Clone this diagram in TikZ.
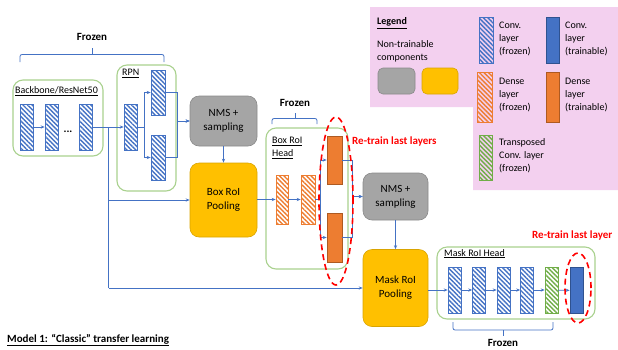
\documentclass[tikz,border=0pt]{standalone}
\usepackage{fontspec}
\setmainfont{Carlito}
\usetikzlibrary{arrows.meta,patterns.meta,shapes.geometric}

\definecolor{cblue}{HTML}{4472C4}
\definecolor{cbluedark}{HTML}{2F528F}
\definecolor{corange}{HTML}{ED7D31}
\definecolor{corangedark}{HTML}{AE5A21}
\definecolor{cgreen}{HTML}{70AD47}
\definecolor{boxgreen}{HTML}{A9D18E}
\definecolor{cgray}{HTML}{A5A5A5}
\definecolor{cgraydark}{HTML}{8A8A8A}
\definecolor{cyellow}{HTML}{FFC000}
\definecolor{cyellowdark}{HTML}{D9A400}
\definecolor{legendpink}{HTML}{F3D0EF}
\definecolor{cred}{HTML}{FF0000}

\tikzset{
  layer/.style={rectangle, inner sep=0pt, minimum width=13pt, minimum height=46pt, line width=0.6pt},
  stripes/.style={pattern={Lines[angle=-45,distance=3.2pt,line width=1.4pt]}, pattern color=#1},
  convfrozen/.style={layer, draw=cblue, stripes=cblue},
  densefrozen/.style={layer, draw=corange, stripes=corange},
  transfrozen/.style={layer, draw=cgreen, stripes=cgreen},
  convtrain/.style={layer, draw=cbluedark, fill=cblue},
  densetrain/.style={layer, draw=corangedark, fill=corange},
  group/.style={rectangle, rounded corners=10pt, draw=boxgreen, line width=1.1pt, inner sep=0pt},
  opbox/.style={rectangle, rounded corners=9pt, inner sep=0pt, line width=0.6pt, align=center,
    font=\fontsize{11}{14}\selectfont},
  graybox/.style={opbox, fill=cgray, draw=cgraydark},
  yellowbox/.style={opbox, fill=cyellow, draw=cyellowdark},
  flow/.style={draw=cblue, line width=0.8pt, -{Stealth[length=4pt,width=3.2pt]}},
  plain/.style={draw=cblue, line width=0.8pt},
  brace/.style={draw=cblue, line width=0.8pt, rounded corners=2pt},
  retrain/.style={draw=cred, line width=1.6pt, dash pattern=on 6pt off 4pt},
  boldlabel/.style={font=\fontsize{11}{13}\selectfont\bfseries, inner sep=0pt},
  redlabel/.style={boldlabel, text=cred, anchor=west},
  grouplabel/.style={font=\fontsize{10}{13}\selectfont, inner sep=0pt, anchor=north west, align=left},
  legendtext/.style={font=\fontsize{10}{13}\selectfont, inner sep=0pt, anchor=west, align=left},
}

\begin{document}
\begin{tikzpicture}[x=1pt, y=-1pt]
\useasboundingbox (0,0) rectangle (618,349);

% legend panel
\fill[legendpink] (370,7) -- (618,7) -- (618,190) -- (473,190) -- (473,107) -- (370,107) -- cycle;
\node[grouplabel, anchor=west, font=\fontsize{10}{13}\selectfont\bfseries] (legtitle) at (377,23) {\underline{Legend}};
\node[legendtext] (legnt) at (377,51) {Non-trainable\\components};
\node[graybox, rounded corners=5pt, minimum width=37pt, minimum height=26pt] (leggray) at (396.5,81) {};
\node[yellowbox, rounded corners=5pt, minimum width=36pt, minimum height=26pt] (legyellow) at (440,81) {};
\node[convfrozen, minimum width=14pt] (lcf) at (486,40) {};
\node[legendtext] (lcftext) at (499,39) {Conv.\\layer\\(frozen)};
\node[convtrain] (lct) at (552.5,40) {};
\node[legendtext] (lcttext) at (565,39) {Conv.\\layer\\(trainable)};
\node[densefrozen, minimum width=15pt, minimum height=50pt] (ldf) at (484.5,97) {};
\node[legendtext] (ldftext) at (499,95) {Dense\\layer\\(frozen)};
\node[densetrain, minimum height=50pt] (ldt) at (552.5,97) {};
\node[legendtext] (ldttext) at (565,95) {Dense\\layer\\(trainable)};
\node[transfrozen, minimum height=45pt] (ltf) at (485.5,157.5) {};
\node[legendtext] (ltftext) at (499,156) {Transposed\\Conv. layer\\(frozen)};

% backbone
\node[group, minimum width=90pt, minimum height=76pt] (backbone) at (58,118) {};
\node[grouplabel] (backbonelbl) at (15,86) {\underline{Backbone/ResNet50}};
\node[convfrozen] (b1) at (26.5,127) {};
\node[convfrozen] (b2) at (51.5,127) {};
\node[font=\fontsize{11}{12}\selectfont\bfseries, inner sep=0pt] (dots) at (68,132) {...};
\node[convfrozen] (b3) at (85.5,127) {};

% region proposal network
\node[group, minimum width=59pt, minimum height=126pt] (rpn) at (146.5,128) {};
\node[grouplabel] (rpnlbl) at (122,69) {\underline{RPN}};
\node[convfrozen] (r1) at (130.5,127) {};
\node[convfrozen, minimum width=14pt, minimum height=45pt] (r2) at (158,92.5) {};
\node[convfrozen, minimum width=14pt, minimum height=45pt] (r3) at (158,157.5) {};

% box branch
\node[graybox, minimum width=67pt, minimum height=50pt] (nms1) at (223.5,121) {NMS +\\sampling};
\node[yellowbox, minimum width=67pt, minimum height=74pt] (boxpool) at (223.5,200) {Box RoI\\Pooling};
\node[group, minimum width=82pt, minimum height=141pt] (boxhead) at (307,198.5) {};
\node[grouplabel] (boxheadlbl) at (272,137) {\underline{Box RoI}\\\underline{Head}};
\node[densefrozen, minimum width=12pt, minimum height=49pt] (d1) at (282,199.5) {};
\node[densefrozen, minimum width=14pt, minimum height=49pt] (d2) at (308,199.5) {};
\node[densetrain, minimum width=15pt, minimum height=48pt] (t1) at (334.5,160) {};
\node[densetrain, minimum width=15pt, minimum height=49pt] (t2) at (334.5,237.5) {};

% mask branch
\node[graybox, minimum width=65pt, minimum height=47pt] (nms2) at (395.5,196.5) {NMS +\\sampling};
\node[yellowbox, minimum width=65pt, minimum height=77pt] (maskpool) at (395.5,288) {Mask RoI\\Pooling};
\node[group, minimum width=158pt, minimum height=72pt] (maskhead) at (516,283) {};
\node[grouplabel] (maskheadlbl) at (444,249) {\underline{Mask RoI Head}};
\node[convfrozen] (m1) at (454.5,290) {};
\node[convfrozen] (m2) at (479,290) {};
\node[convfrozen] (m3) at (503.5,290) {};
\node[convfrozen] (m4) at (527,290) {};
\node[transfrozen] (m5) at (551.5,290) {};
\node[convtrain] (m6) at (576.5,290.5) {};

% connectors
\coordinate (split) at (108.5,127);
\draw[flow] (b1) -- (b2);
\draw[flow] (b3) -- (r1);
\draw[plain] (split) -- (108.5,288) coordinate (corner);
\draw[flow] (108.5,200) -- (boxpool.west);
\draw[flow] (corner) -- (maskpool.west |- corner);

\coordinate (rsplit) at (144,127);
\draw[flow] (r1.east) -- (rsplit) |- (r2.west);
\draw[flow] (rsplit) |- (r3.west);
\draw[flow] (r2.east) -- ++(12,0) |- (nms1.west);
\draw[flow] (r3.east) -- ++(12,0) |- (nms1.west);
\draw[flow] (nms1) -- (boxpool);

\draw[flow] (boxpool.east |- d1) -- (d1);
\draw[flow] (d1) -- (d2);
\coordinate (dsplit) at (320,199.5);
\draw[flow] (d2.east) -- (dsplit) |- (t1.west);
\draw[flow] (dsplit) |- (t2.west);
\draw[flow] (t1.east) -- (352,160) |- (nms2.west);
\draw[flow] (t2.east) -- (352,237.5) |- (nms2.west);
\draw[flow] (nms2) -- (maskpool);

\draw[flow] (maskpool.east |- m1) -- (m1);
\draw[flow] (m1) -- (m2);
\draw[flow] (m2) -- (m3);
\draw[flow] (m3) -- (m4);
\draw[flow] (m4) -- (m5);
\draw[flow] (m5) -- (m6);

% trainable layers highlighted
\node[retrain, ellipse, minimum width=34pt, minimum height=168pt, inner sep=0pt] (ring1) at (336,201) {};
\node[retrain, ellipse, minimum width=26pt, minimum height=70pt, inner sep=0pt] (ring2) at (578,288) {};
\node[redlabel] (rt1) at (352,141) {Re-train last layers};
\node[redlabel] (rt2) at (532,235) {Re-train last layer};

% frozen braces
\draw[brace] (20,62) -- (20,54.5) -- (164,54.5) -- (164,62);
\draw[brace] (92,54.5) -- (92,48);
\node[boldlabel] (frz1) at (92,37) {Frozen};
\draw[brace] (272,124) -- (272,118.5) -- (317,118.5) -- (317,124);
\draw[brace] (295,118.5) -- (295,113);
\node[boldlabel] (frz2) at (295,103) {Frozen};
\draw[brace] (453,322) -- (453,330) -- (553,330) -- (553,322);
\draw[brace] (503,330) -- (503,336);
\node[boldlabel] (frz3) at (503,342.5) {Frozen};

% caption
\node[boldlabel, anchor=west] (caption) at (7,340) {\underline{Model 1: “Classic” transfer learning}};
\end{tikzpicture}
\end{document}
